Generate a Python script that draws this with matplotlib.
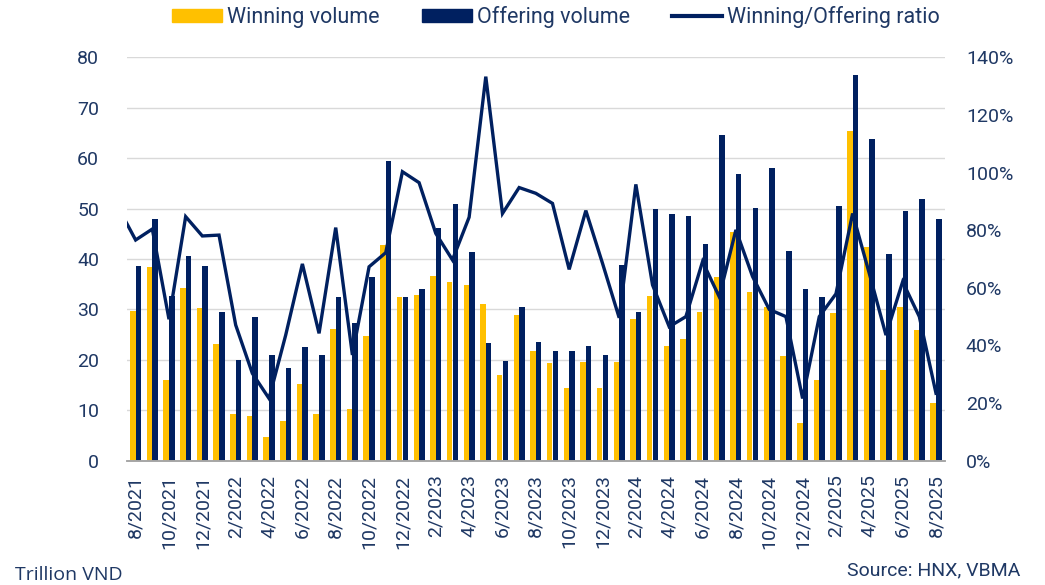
import numpy as np
import matplotlib.pyplot as plt
from matplotlib.patches import Patch
from matplotlib.lines import Line2D

plt.rcParams['font.family'] = ['Roboto', 'DejaVu Sans']

# monthly data, 8/2021 .. 8/2025
months = ['8/2021', '9/2021', '10/2021', '11/2021', '12/2021',
          '1/2022', '2/2022', '3/2022', '4/2022', '5/2022', '6/2022', '7/2022',
          '8/2022', '9/2022', '10/2022', '11/2022', '12/2022',
          '1/2023', '2/2023', '3/2023', '4/2023', '5/2023', '6/2023', '7/2023',
          '8/2023', '9/2023', '10/2023', '11/2023', '12/2023',
          '1/2024', '2/2024', '3/2024', '4/2024', '5/2024', '6/2024', '7/2024',
          '8/2024', '9/2024', '10/2024', '11/2024', '12/2024',
          '1/2025', '2/2025', '3/2025', '4/2025', '5/2025', '6/2025', '7/2025',
          '8/2025']

winning = [29.7, 38.5, 16.1, 34.2, 30.3,
           23.1, 9.3, 8.9, 4.6, 7.9, 15.3, 9.3, 26.1, 10.2, 24.7, 42.8, 32.5,
           32.8, 36.6, 35.4, 34.8, 31.0, 17.0, 28.8, 21.8, 19.4, 14.5, 19.6, 14.5,
           19.5, 28.2, 32.6, 22.7, 24.1, 29.5, 36.5, 45.3, 33.4, 30.5, 20.8, 7.4,
           16.0, 29.2, 65.4, 42.4, 18.0, 30.5, 25.9, 11.4]

offering = [38.7, 47.9, 32.7, 40.5, 38.7,
            29.5, 20.0, 28.5, 21.0, 18.4, 22.5, 21.0, 32.5, 27.4, 36.5, 59.5, 32.5,
            34.0, 46.2, 51.0, 41.3, 23.3, 19.8, 30.5, 23.5, 21.8, 21.8, 22.7, 21.0,
            38.9, 29.5, 50.0, 49.0, 48.5, 43.0, 64.5, 56.8, 50.1, 58.0, 41.5, 34.0,
            32.5, 50.5, 76.5, 63.9, 40.9, 49.5, 52.0, 47.9]

# ratio in %, ratio_prev is 7/2021 (cut off by the left edge)
ratio_prev = 87.4
ratio = [76.6, 80.4, 49.1, 84.7, 78.0,
         78.3, 47.1, 30.3, 21.6, 43.6, 68.3, 44.2, 80.9, 36.7, 67.3, 72.2, 100.3,
         96.5, 78.9, 69.7, 84.5, 133.3, 85.8, 94.8, 92.8, 89.3, 66.4, 86.8, 68.5,
         49.6, 95.9, 61.0, 46.5, 50.0, 69.1, 56.9, 80.1, 63.9, 52.5, 50.0, 21.6,
         50.0, 57.9, 85.8, 65.0, 43.6, 62.1, 50.0, 23.4]

yellow = '#FFC000'
navy = '#002060'
txt = '#1F3864'

fig = plt.figure(figsize=(10.45, 5.85), dpi=100)
ax = fig.add_axes([0.1215, 0.2125, 0.7828, 0.6895])
ax2 = ax.twinx()

x = np.arange(len(months))
w = 0.33
ax.bar(x - 0.17, winning, width=w, color=yellow, zorder=2)
ax.bar(x + 0.17, offering, width=w, color=navy, zorder=2)

xl = np.concatenate([[-1], x])
yl = np.array([ratio_prev] + ratio) / 100
ax2.plot(xl, yl, color=navy, lw=2.4, solid_joinstyle='miter', zorder=3)

ax.set_xlim(-0.52, len(months) - 1 + 0.54)
ax.set_ylim(0, 80)
ax2.set_ylim(0, 1.4)
ax.set_yticks(range(0, 81, 10))
ax2.set_yticks(np.arange(0, 1.41, 0.2))
ax2.set_yticklabels([f'{int(round(v * 100))}%' for v in np.arange(0, 1.41, 0.2)])

ax.set_xticks(x[::2])
ax.set_xticklabels(months[::2], rotation=90)

ax.grid(axis='y', color='#D9D9D9', lw=1, zorder=0)
ax.set_axisbelow(True)
for a in (ax, ax2):
    for s in ('top', 'left', 'right'):
        a.spines[s].set_visible(False)
    a.spines['bottom'].set_color('#A6A6A6')
    a.spines['bottom'].set_linewidth(1.2)
    a.tick_params(length=0, labelsize=14, labelcolor=txt)
ax.tick_params(axis='y', pad=20)
ax2.tick_params(axis='y', pad=15)
ax.tick_params(axis='x', pad=10)

handles = [Patch(color=yellow), Patch(color=navy), Line2D([], [], color=navy, lw=3)]
fig.legend(handles, ['Winning volume', 'Offering volume', 'Winning/Offering ratio'],
           loc='center', bbox_to_anchor=(0.532, 0.971), ncol=3, frameon=False,
           fontsize=15.5, labelcolor=txt, handlelength=2.33, handleheight=0.55,
           handletextpad=0.23, columnspacing=1.95)

fig.text(0.014, 0.008, 'Trillion VND', fontsize=14, color=txt, family=['Open Sans', 'DejaVu Sans'])
fig.text(0.811, 0.016, 'Source: HNX, VBMA', fontsize=14, color=txt)

fig.savefig('out.png', dpi=100)
